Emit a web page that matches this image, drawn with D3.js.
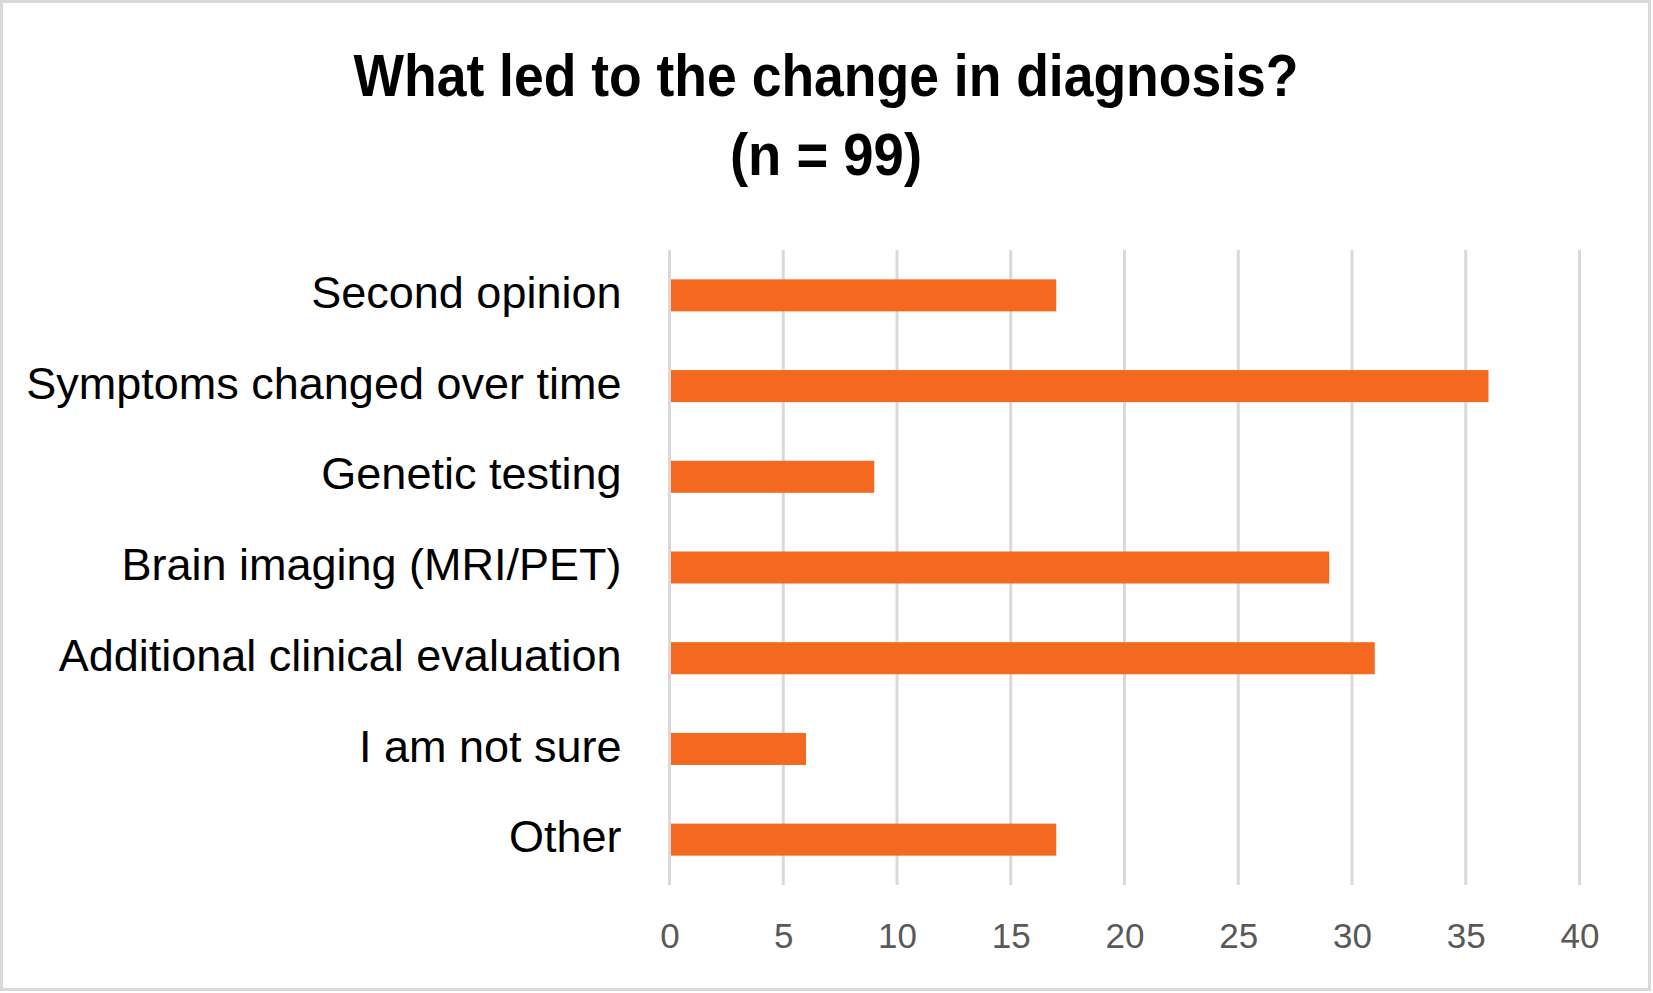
<!DOCTYPE html>
<html>
<head>
<meta charset="utf-8">
<script src="https://cdn.jsdelivr.net/npm/d3@7"></script>
<style>
  html, body { margin: 0; padding: 0; background: #fff; }
  svg text { font-family: "Liberation Sans", Arial, sans-serif; }
</style>
</head>
<body>
<svg id="chart" width="1653" height="993"></svg>
<script>
// --- Data ---
const categories = [
    'Second opinion',
    'Symptoms changed over time',
    'Genetic testing',
    'Brain imaging (MRI/PET)',
    'Additional clinical evaluation',
    'I am not sure',
    'Other'
];
const counts = [17, 36, 9, 29, 31, 6, 17];
const xTicks = [0, 5, 10, 15, 20, 25, 30, 35, 40];
const titleLines = ['What led to the change in diagnosis?', '(n = 99)'];
const titleWidths = [945, 192]; // narrow title font in the original

const W = 1653, H = 993;
const margin = { top: 250, right: 73, bottom: 108, left: 669.5 };
const barColor = '#f4681f';

const svg = d3.select('#chart');

// frame
svg.append('rect')
    .attr('x', 1.5).attr('y', 1.5)
    .attr('width', W - 5).attr('height', H - 5)
    .attr('fill', '#fff')
    .attr('stroke', '#d9d9d9').attr('stroke-width', 3);

// title
svg.selectAll('.title')
    .data(titleLines)
    .join('text')
    .attr('class', 'title')
    .attr('x', 826)
    .attr('y', (d, i) => 96 + i * 79)
    .attr('text-anchor', 'middle')
    .attr('font-size', 60)
    .attr('font-weight', 'bold')
    .attr('fill', '#000')
    .attr('textLength', (d, i) => titleWidths[i])
    .attr('lengthAdjust', 'spacingAndGlyphs')
    .text(d => d);

const x = d3.scaleLinear().domain([0, 40]).range([margin.left, 1579.5]);
const y = d3.scaleBand().domain(categories)
    .range([margin.top, H - margin.bottom])
    .paddingInner(0.647).paddingOuter(0.3235);

// gridlines
svg.append('g')
    .selectAll('line')
    .data(xTicks)
    .join('line')
    .attr('x1', d => x(d)).attr('x2', d => x(d))
    .attr('y1', margin.top).attr('y2', H - margin.bottom)
    .attr('stroke', '#d9d9d9').attr('stroke-width', 3);

// bars
svg.append('g')
    .selectAll('rect')
    .data(categories)
    .join('rect')
    .attr('x', x(0) + 1.5)
    .attr('y', d => y(d))
    .attr('width', (d, i) => x(counts[i]) - x(0) - 1.5)
    .attr('height', y.bandwidth())
    .attr('fill', barColor);

// x axis labels
const xAxis = svg.append('g')
    .attr('transform', `translate(0,${H - margin.bottom})`)
    .call(d3.axisBottom(x).tickValues(xTicks).tickSize(0).tickPadding(38));
xAxis.select('.domain').remove();
xAxis.selectAll('text')
    .attr('font-size', 35)
    .attr('fill', '#595959')
    .style('font-family', '"Liberation Sans", Arial, sans-serif');

// y axis labels
const yAxis = svg.append('g')
    .attr('transform', `translate(${margin.left},0)`)
    .call(d3.axisLeft(y).tickSize(0).tickPadding(48));
yAxis.select('.domain').remove();
yAxis.selectAll('text')
    .attr('font-size', 45)
    .attr('dy', '0.28em')
    .attr('fill', '#000')
    .style('font-family', '"Liberation Sans", Arial, sans-serif');
</script>
</body>
</html>
